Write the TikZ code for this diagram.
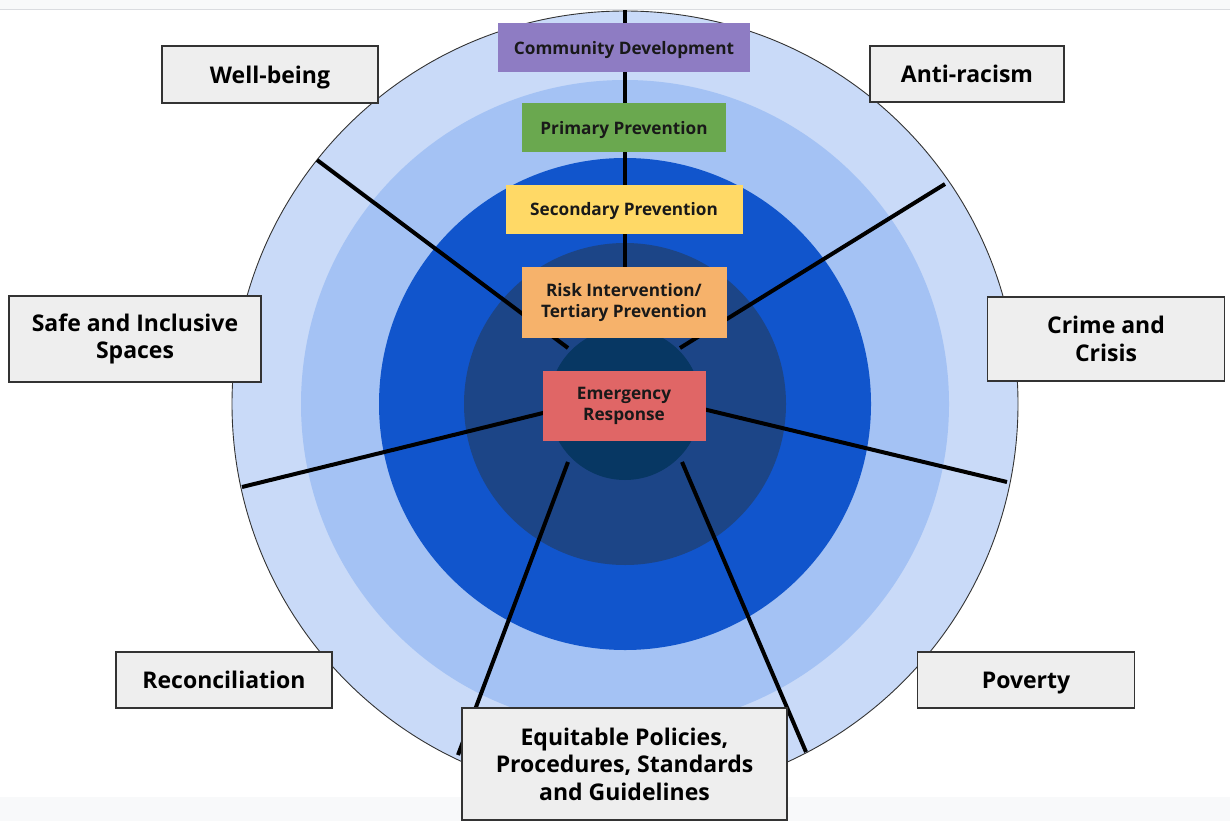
\documentclass[tikz,border=0pt]{standalone}
\usepackage{fontspec}
\setmainfont{Open Sans}
\usetikzlibrary{positioning}

\definecolor{ring1}{HTML}{C9DAF8}
\definecolor{ring2}{HTML}{A4C2F4}
\definecolor{ring3}{HTML}{1155CC}
\definecolor{ring4}{HTML}{1C4587}
\definecolor{ring5}{HTML}{073763}
\definecolor{boksgraa}{HTML}{EEEEEE}
\definecolor{kant}{HTML}{333333}
\definecolor{strip}{HTML}{F8F9FA}
\definecolor{stripkant}{HTML}{DADCE0}

\tikzset{
    %Define style for the grey label boxes
    boks/.style={
           rectangle,
           draw=kant, line width=1.3pt,
           fill=boksgraa,
           text=black,
           align=center,
           inner sep=0pt,
           font=\fontsize{23}{27.5}\selectfont\bfseries},
    %Define style for the coloured level boxes
    lag/.style={
           rectangle,
           inner sep=0pt,
           minimum height=49pt,
           text=black!90,
           align=center,
           font=\fontsize{17.2}{21}\selectfont\bfseries},
    % one-line texts sit on the middle
    enlinje/.style={text depth=0pt},
    % Define spoke style
    eike/.style={
           line width=4pt,
           black}
}

\begin{document}
\begin{tikzpicture}[x=1pt, y=-1pt, node distance=32pt]
    \useasboundingbox (0,0) rectangle (1230,821);
    \fill[strip] (0,797) rectangle (1230,821);

    % rings
    \coordinate (c) at (625,404);
    \fill[ring1] (c) circle (393pt);
    \fill[ring2] (c) circle (324pt);
    \fill[ring3] (c) circle (246pt);
    \fill[ring4] (c) circle (161pt);
    \fill[ring5] (c) circle (76pt);
    \draw[kant, line width=0.9pt] (c) circle (393pt);

    % spokes
    \coordinate (i1) at (625,326);  \coordinate (o1) at (625,10);
    \coordinate (i2) at (680,348);  \coordinate (o2) at (945,184);
    \coordinate (i3) at (703,409);  \coordinate (o3) at (1007,482);
    \coordinate (i4) at (682,462);  \coordinate (o4) at (806,752);
    \coordinate (i5) at (568,462);  \coordinate (o5) at (458,755);
    \coordinate (i6) at (547,412);  \coordinate (o6) at (242,487);
    \coordinate (i7) at (568,348);  \coordinate (o7) at (317,160);
    \foreach \k in {1,...,7}
        \draw[eike] (i\k) -- (o\k);

    \fill[strip] (0,0) rectangle (1230,9);
    \draw[stripkant, line width=1pt] (0,9.5) -- (1230,9.5);

    % levels
    \node[lag, enlinje, fill={rgb,255:red,142;green,124;blue,195}, minimum width=252pt] (community) at (624,47.5) {Community Development};
    \node[lag, enlinje, fill={rgb,255:red,106;green,168;blue,79}, minimum width=204pt, below=31pt of community] (primary) {Primary Prevention};
    \node[lag, enlinje, fill={rgb,255:red,255;green,217;blue,102}, minimum width=237pt, below=32pt of primary] (secondary) {Secondary Prevention};
    \node[lag, fill={rgb,255:red,246;green,178;blue,107}, minimum width=205pt, minimum height=71pt, below=33pt of secondary] (risk) {Risk Intervention/\\Tertiary Prevention};
    \node[lag, fill={rgb,255:red,224;green,102;blue,102}, minimum width=163pt, minimum height=70pt, below=32pt of risk] (emergency) {Emergency\\Response};

    % labels
    \node[boks, enlinje, minimum width=216pt, minimum height=57pt] (wellbeing) at (270,74.5) {Well-being};
    \node[boks, enlinje, minimum width=194pt, minimum height=56pt] (antiracism) at (967,74) {Anti-racism};
    \node[boks, minimum width=252pt, minimum height=86pt] (safe) at (135,339) {Safe and Inclusive\\Spaces};
    \node[boks, minimum width=237pt, minimum height=84pt] (crime) at (1106,339) {Crime and\\Crisis};
    \node[boks, enlinje, minimum width=216pt, minimum height=56pt] (reconciliation) at (224,680) {Reconciliation};
    \node[boks, enlinje, minimum width=217pt, minimum height=56pt] (poverty) at (1026,680) {Poverty};
    \node[boks, minimum width=325pt, minimum height=112pt] (equitable) at (624.5,764) {Equitable Policies,\\Procedures, Standards\\and Guidelines};
\end{tikzpicture}
\end{document}
